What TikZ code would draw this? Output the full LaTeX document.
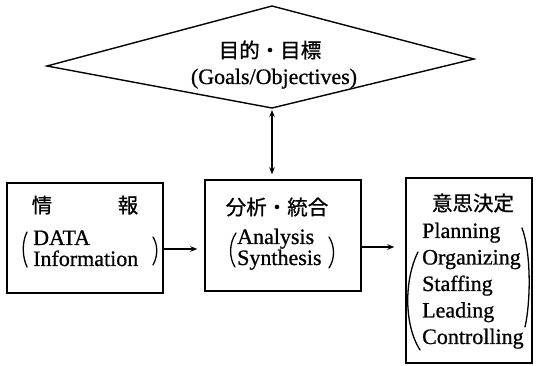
\documentclass[tikz,border=0pt]{standalone}
\usepackage{fontspec}
\setmainfont{Liberation Serif}
\newfontfamily\latf{Liberation Serif}[FakeBold=0.8]
\newfontfamily\cjk{Noto Sans CJK JP}[FakeBold=0.8]
\usetikzlibrary{arrows.meta}
\begin{document}
\begin{tikzpicture}[x=1pt,y=-1pt,
  boxline/.style={draw, line width=1.4pt},
  box/.style={boxline, rectangle, inner sep=0pt},
  cjktext/.style={font=\cjk\fontsize{20.5}{22}\selectfont, inner sep=0pt},
  lat/.style={font=\latf\fontsize{22}{21}\selectfont, inner sep=0pt, anchor=base west},
  paren/.style={line width=1.3pt, line cap=round},
  conn/.style={line width=1.3pt, -{Stealth[length=7pt,width=5.5pt]}},
  conn2/.style={line width=1.3pt, {Stealth[length=7pt,width=5.5pt]}-{Stealth[length=7pt,width=5.5pt]}}]
\useasboundingbox (0,0) rectangle (536,366);
% diamond
\coordinate (dt) at (272,6);
\coordinate (dr) at (474,59);
\coordinate (db) at (272,108);
\coordinate (dl) at (47,66);
\draw[boxline, line join=miter] (dt) -- (dr) -- (db) -- (dl) -- cycle;
\node[cjktext] (goalj) at (270,50) {目的・目標};
\node[lat, anchor=base] (goale) at (274,84) {(Goals/Objectives)};
% boxes
\node[box, minimum width=156pt, minimum height=110pt] (b1) at (85,238) {};
\node[box, minimum width=156pt, minimum height=111pt] (b2) at (283,235.5) {};
\node[box, minimum width=126pt, minimum height=185pt] (b3) at (469,270.5) {};
% box 1 text
\node[cjktext] (jo) at (42,205) {情};
\node[cjktext] (ho) at (128,205) {報};
\node[lat] (data) at (33,245) {DATA};
\node[lat] (info) at (33,266) {Information};
\draw[paren] (27,232) .. controls (22,242) and (22,256) .. (27,267);
\draw[paren] (153,237) .. controls (158,245) and (158,256) .. (153,265);
% box 2 text
\node[cjktext] (bunseki) at (277,207) {分析・統合};
\node[lat] (ana) at (237,244) {Analysis};
\node[lat] (syn) at (237,265) {Synthesis};
\draw[paren] (236,233) .. controls (229,243) and (229,258) .. (235,267);
\draw[paren] (329,237) .. controls (335,246) and (335,259) .. (329,268);
% box 3 text
\node[cjktext] (ishi) at (473,203) {意思決定};
\node[lat] (pl) at (422,238) {Planning};
\node[lat] (org) at (422,264.5) {Organizing};
\node[lat] (sta) at (422,291) {Staffing};
\node[lat] (lea) at (422,317.5) {Leading};
\node[lat] (con) at (422,344) {Controlling};
\draw[paren] (418,252) .. controls (404,280) and (404,325) .. (420,350);
\draw[paren] (522,228) .. controls (531,252) and (531,300) .. (525,327);
% connectors
\draw[conn2, shorten <=2pt, shorten >=5pt] (db) -- (db |- b2.north);
\draw[conn, shorten >=7pt] (b1.east |- 0,249) -- (b2.west |- 0,249);
\draw[conn, shorten >=11pt] (b2.east |- 0,247) -- (b3.west |- 0,247);
\end{tikzpicture}
\end{document}
